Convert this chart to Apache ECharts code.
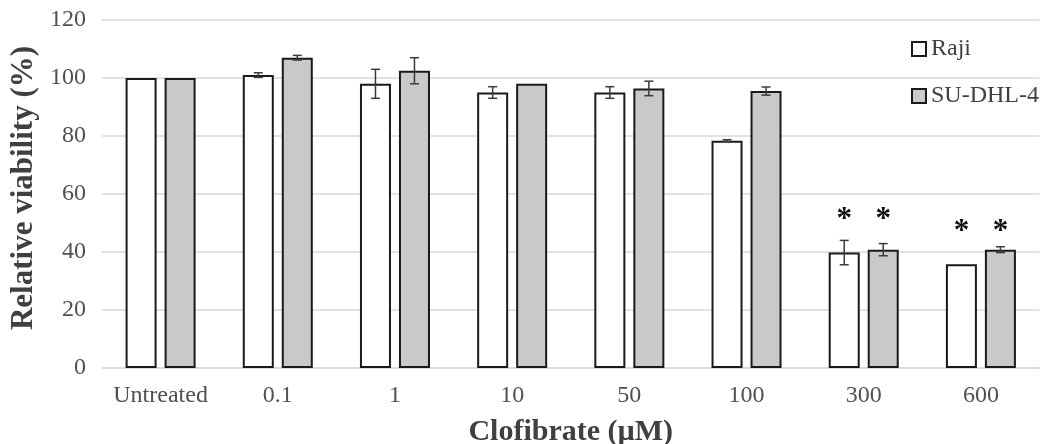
<!DOCTYPE html>
<html>
<head>
<meta charset="utf-8">
<script src="https://cdn.jsdelivr.net/npm/echarts@6/dist/echarts.min.js"></script>
<style>
html,body{margin:0;padding:0;background:#fff;}
#chart{width:1043px;height:444px;}
</style>
</head>
<body>
<div id="chart"></div>
<script>
var categories = ['Untreated', '0.1', '1', '10', '50', '100', '300', '600'];
var seriesNames = ['Raji', 'SU-DHL-4'];
var rajiValues = [100, 101, 98, 95, 95, 78.4, 39.8, 35.8];
var rajiErrors = [0, 0.8, 5, 2, 2, 0.3, 4.2, 0];
var suValues = [100, 107, 102.5, 98, 96.4, 95.5, 40.8, 40.8];
var suErrors = [0, 0.8, 4.5, 0, 2.5, 1.4, 2.1, 1];
var starRaji = [null, null, null, null, null, null, 51, 47];
var starSu = [null, null, null, null, null, null, 51, 47];
var yTicks = [0, 20, 40, 60, 80, 100, 120];

var FONT = '"Liberation Serif", "Times New Roman", serif';
var BAR_W = 31;
var GAP = 8;
var OFF = (BAR_W + GAP) / 2;

function errData(vals, errs) {
  var out = [];
  for (var i = 0; i < vals.length; i++) {
    if (errs[i] > 0) out.push([i, vals[i] - errs[i], vals[i] + errs[i]]);
  }
  return out;
}
function starData(arr) {
  var out = [];
  for (var i = 0; i < arr.length; i++) if (arr[i] != null) out.push([i, arr[i]]);
  return out;
}
function errRender(offset) {
  return function (params, api) {
    var lo = api.coord([api.value(0), api.value(1)]);
    var hi = api.coord([api.value(0), api.value(2)]);
    var x = lo[0] + offset;
    var cap = 4.5;
    var st = { stroke: '#3a3a3a', lineWidth: 1.5 };
    return { type: 'group', children: [
      { type: 'line', shape: { x1: x, y1: lo[1], x2: x, y2: hi[1] }, style: st },
      { type: 'line', shape: { x1: x - cap, y1: lo[1], x2: x + cap, y2: lo[1] }, style: st },
      { type: 'line', shape: { x1: x - cap, y1: hi[1], x2: x + cap, y2: hi[1] }, style: st }
    ]};
  };
}
function starRender(offset) {
  return function (params, api) {
    var p = api.coord([api.value(0), api.value(1)]);
    return { type: 'text', x: p[0] + offset, y: p[1],
      style: { text: '*', font: 'bold 31px ' + FONT, fill: '#111', align: 'center', verticalAlign: 'middle' } };
  };
}

var chart = echarts.init(document.getElementById('chart'));
chart.setOption({
  animation: false,
  backgroundColor: '#fff',
  grid: { left: 102, right: 3.5, top: 20, bottom: 76, containLabel: false, outerBoundsMode: 'none' },
  legend: {
    orient: 'vertical', left: 906, top: 32, itemGap: 23,
    itemWidth: 14, itemHeight: 14, icon: 'rect',
    textStyle: { fontFamily: FONT, fontSize: 24, color: '#404040' },
    data: seriesNames
  },
  xAxis: {
    type: 'category', data: categories,
    name: 'Clofibrate (\u00b5M)', nameLocation: 'middle', nameGap: 49,
    nameTextStyle: { fontFamily: FONT, fontSize: 30, fontWeight: 'bold', color: '#404040' },
    axisLine: { lineStyle: { color: '#d9d9d9', width: 1.5 } },
    axisTick: { show: false },
    axisLabel: { fontFamily: FONT, fontSize: 24, color: '#505050', margin: 16, interval: 0 }
  },
  yAxis: {
    type: 'value', min: 0, max: 120, interval: 20,
    name: 'Relative viability (%)', nameLocation: 'middle', nameGap: 51,
    nameTextStyle: { fontFamily: FONT, fontSize: 31, fontWeight: 'bold', color: '#404040', padding: [0, 0, 0, 12] },
    axisLine: { show: false }, axisTick: { show: false },
    axisLabel: { fontFamily: FONT, fontSize: 24, color: '#505050', margin: 16,
      formatter: function (v) { return yTicks.indexOf(v) >= 0 ? String(v) : ''; } },
    splitLine: { lineStyle: { color: '#d9d9d9', width: 1.5 } }
  },
  series: [
    { name: seriesNames[0], type: 'bar', data: rajiValues, barWidth: BAR_W, barGap: (GAP / BAR_W * 100) + '%',
      itemStyle: { color: '#ffffff', borderColor: '#1a1a1a', borderWidth: 2 } },
    { name: seriesNames[1], type: 'bar', data: suValues, barWidth: BAR_W,
      itemStyle: { color: '#c9c9c9', borderColor: '#1a1a1a', borderWidth: 2 } },
    { type: 'custom', data: errData(rajiValues, rajiErrors), renderItem: errRender(-OFF), z: 10, silent: true },
    { type: 'custom', data: errData(suValues, suErrors), renderItem: errRender(OFF), z: 10, silent: true },
    { type: 'custom', data: starData(starRaji), renderItem: starRender(-OFF), z: 10, silent: true },
    { type: 'custom', data: starData(starSu), renderItem: starRender(OFF), z: 10, silent: true }
  ]
});
</script>
</body>
</html>
